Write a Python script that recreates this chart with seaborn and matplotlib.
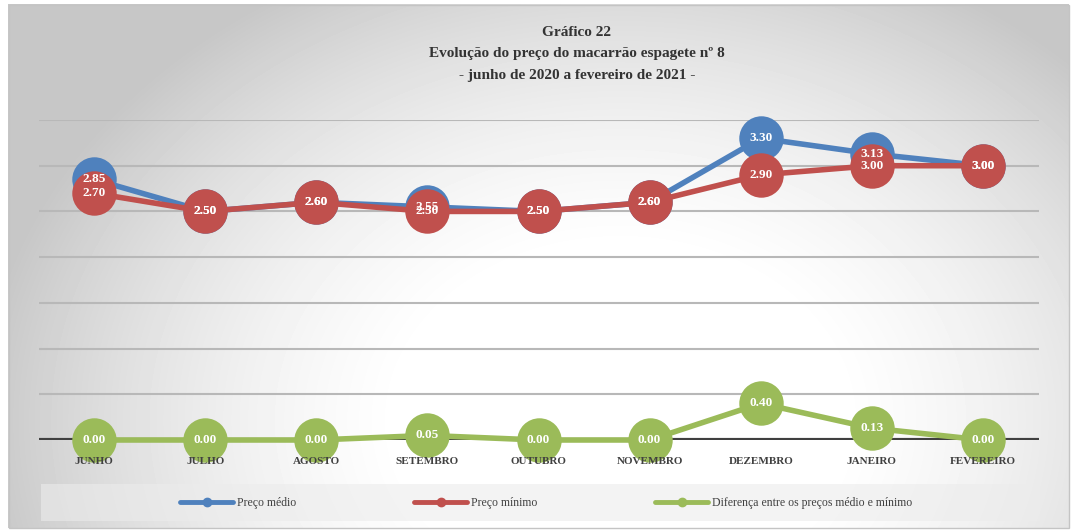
import numpy as np
import pandas as pd
import seaborn as sns
import matplotlib.pyplot as plt
from matplotlib.lines import Line2D
from matplotlib.patches import Rectangle

# dados do gráfico
meses = ["JUNHO", "JULHO", "AGOSTO", "SETEMBRO", "OUTUBRO",
         "NOVEMBRO", "DEZEMBRO", "JANEIRO", "FEVEREIRO"]
preco_medio = [2.85, 2.50, 2.60, 2.55, 2.50, 2.60, 3.30, 3.13, 3.00]
preco_minimo = [2.70, 2.50, 2.60, 2.50, 2.50, 2.60, 2.90, 3.00, 3.00]
diferenca = [0.00, 0.00, 0.00, 0.05, 0.00, 0.00, 0.40, 0.13, 0.00]
series = ["Preço médio", "Preço mínimo", "Diferença entre os preços médio e mínimo"]
cores = ["#4F81BD", "#C0504D", "#9BBB59"]

df = pd.DataFrame({"mes": meses, "pos": np.arange(len(meses)),
                   series[0]: preco_medio, series[1]: preco_minimo, series[2]: diferenca})
longo = df.melt(id_vars=["mes", "pos"], value_vars=series, var_name="serie", value_name="valor")

sns.set_style("white")
plt.rcParams["font.family"] = ["Liberation Serif", "DejaVu Serif"]

W, H = 1073, 531
fig = plt.figure(figsize=(W / 100, H / 100), dpi=100)

# fundo com gradiente radial
bg = fig.add_axes([0, 0, 1, 1], zorder=-5)
yy, xx = np.mgrid[0:H, 0:W]
r2 = ((xx - 620) / 600.0) ** 2 + ((yy - 420) / 470.0) ** 2
img = np.clip(1.03 - 0.22 * r2, 0.78, 1.0)
fora = (xx < 8) | (yy < 4) | (xx > 1068) | (yy > 527)
img[fora] = 1.0
bg.imshow(img, cmap="gray", vmin=0, vmax=1, aspect="auto", interpolation="bilinear")
bg.add_patch(Rectangle((8, 4), 1060, 523, fill=False, edgecolor="#c4c4c4", lw=1))
bg.set_axis_off()

# caixa da legenda
fig.patches.append(Rectangle((41 / W, 1 - 521 / H), 999 / W, 37 / H, transform=fig.transFigure,
                             facecolor="#ececec", alpha=0.6, edgecolor="none", zorder=-1))

ax = fig.add_axes([38.5 / W, 91 / H, 1000 / W, 320 / H])
ax.patch.set_alpha(0)

sns.lineplot(data=longo, x="pos", y="valor", hue="serie", hue_order=series, palette=cores,
             marker="o", markersize=32, markeredgewidth=0, linewidth=4, sort=False,
             legend=False, clip_on=False, zorder=4, ax=ax)

ax.axhline(0, color="#404040", lw=3, zorder=3)

for valores in [preco_medio, preco_minimo, diferenca]:
    for i, v in enumerate(valores):
        ax.text(i, v, f"{v:.2f}", ha="center", va="center", color="white",
                fontsize=9.5, fontweight="bold", zorder=10)

ax.set_xlim(-0.5, 8.5)
ax.set_ylim(0, 3.5)
ax.set_yticks(np.arange(0.5, 3.51, 0.5))
ax.set_yticklabels([])
ax.yaxis.grid(True, color="#b8b8b8", lw=1.5)
ax.set_xticks(np.arange(len(meses)))
ax.set_xticklabels(meses, fontsize=8, fontweight="bold", color="#404040")
ax.xaxis.set_zorder(11)
ax.tick_params(axis="both", length=0)
ax.tick_params(axis="x", pad=12)
ax.set_xlabel("")
ax.set_ylabel("")
sns.despine(ax=ax, left=True, bottom=True)

fig.text(577 / W, 1 - 32 / H, "Gráfico 22", ha="center", va="center",
         fontsize=11, fontweight="bold", color="#333333")
fig.text(577 / W, 1 - 53 / H, "Evolução do preço do macarrão espagete nº 8", ha="center", va="center",
         fontsize=11, fontweight="bold", color="#333333")
fig.text(577 / W, 1 - 75 / H, "- junho de 2020 a fevereiro de 2021 -", ha="center", va="center",
         fontsize=11, fontweight="bold", color="#333333")

handles = [Line2D([0], [0], color=c, lw=3.5, marker="o", markersize=6) for c in cores]
fig.legend(handles, series, loc="center", bbox_to_anchor=(546 / W, 1 - 503 / H), ncol=3,
           frameon=False, handlelength=4.5, handletextpad=0.3, columnspacing=10, fontsize=8.5,
           labelcolor="#404040")

fig.savefig("out.png", dpi=100)
